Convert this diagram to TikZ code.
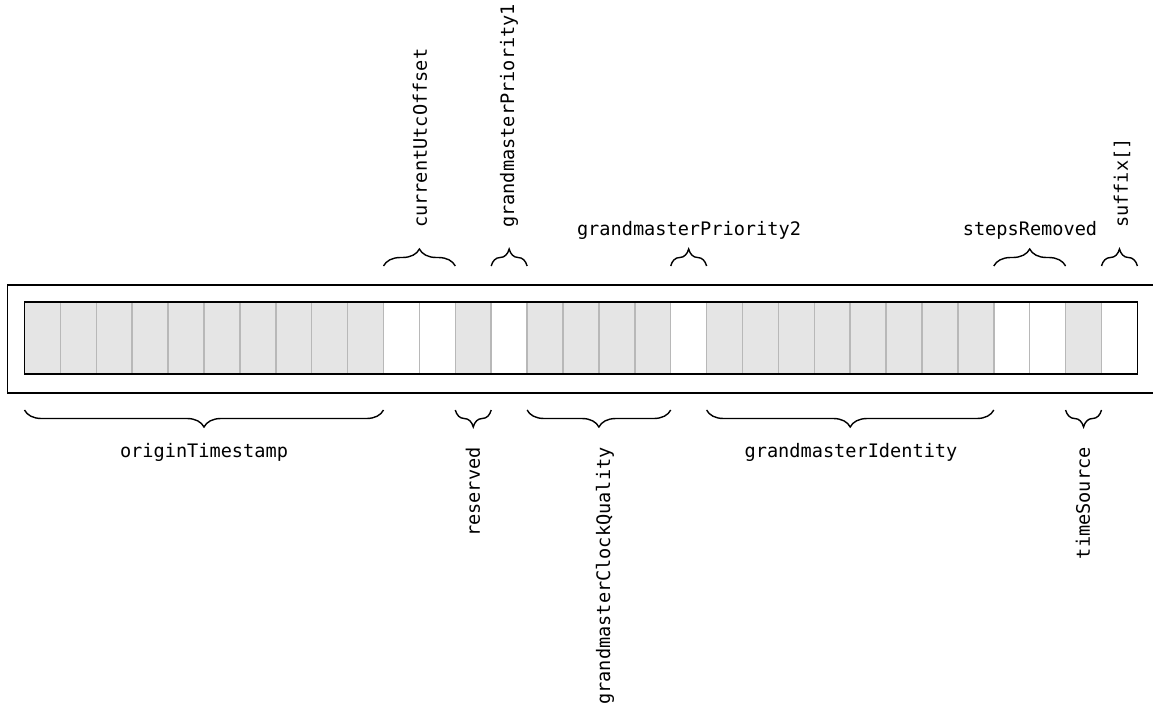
\documentclass[tikz,border=0pt]{standalone}
\usepackage{fontspec}
\newfontfamily\monofont{DejaVu Sans Mono}
\usetikzlibrary{decorations.pathreplacing}
\definecolor{cellfill}{HTML}{E5E5E5}
\definecolor{cellline}{HTML}{B8B8B8}
\begin{document}
\begin{tikzpicture}[x=1pt,y=-1pt,
  cell/.style={draw=cellline, line width=1.5pt, minimum width=35.9pt, minimum height=72pt, inner sep=0pt, outer sep=0pt, anchor=north west},
  gcell/.style={cell, fill=cellfill},
  wcell/.style={cell, fill=white},
  brc/.style={decorate, decoration={brace, amplitude=17pt}, line width=1.4pt},
  mbrc/.style={decorate, decoration={brace, amplitude=17pt, mirror}, line width=1.4pt},
  lbl/.style={font=\monofont\fontsize{18.6}{20}\selectfont, inner sep=0pt, text=black},
  vlbl/.style={lbl, rotate=90}]
\useasboundingbox (0,0) rectangle (1153,704);
\node[draw, line width=1.5pt, minimum width=1160pt, minimum height=108pt, inner sep=0pt, anchor=north west] (frame) at (6.5,284) {};
\foreach \i in {0,...,30} {
  \ifnum\i<10 \def\st{gcell}\else
  \ifnum\i=12 \def\st{gcell}\else
  \ifnum\i>13 \ifnum\i<18 \def\st{gcell}\else
    \ifnum\i>18 \ifnum\i<27 \def\st{gcell}\else
      \ifnum\i=29 \def\st{gcell}\else \def\st{wcell}\fi\fi
    \else \def\st{wcell}\fi\fi
  \else \def\st{wcell}\fi\fi\fi
  \node[\st] (c\i) at (24.5+\i*35.9, 302) {};
}
\draw[line width=1.5pt] (c0.north west) rectangle (c30.south east);
% top braces
\draw[brc] ([yshift=36pt]c10.north west) -- ([yshift=36pt]c11.north east);
\draw[brc] ([yshift=36pt]c13.north west) -- ([yshift=36pt]c13.north east);
\draw[brc] ([yshift=36pt]c18.north west) -- ([yshift=36pt]c18.north east);
\draw[brc] ([yshift=36pt]c27.north west) -- ([yshift=36pt]c28.north east);
\draw[brc] ([yshift=36pt]c30.north west) -- ([yshift=36pt]c30.north east);
% bottom braces
\draw[mbrc] ([yshift=-36pt]c0.south west) -- ([yshift=-36pt]c9.south east);
\draw[mbrc] ([yshift=-36pt]c12.south west) -- ([yshift=-36pt]c12.south east);
\draw[mbrc] ([yshift=-36pt]c14.south west) -- ([yshift=-36pt]c17.south east);
\draw[mbrc] ([yshift=-36pt]c19.south west) -- ([yshift=-36pt]c26.south east);
\draw[mbrc] ([yshift=-36pt]c29.south west) -- ([yshift=-36pt]c29.south east);
% top labels
\node[vlbl, anchor=west] (l1) at (420,228) {currentUtcOffset};
\node[vlbl, anchor=west] (l2) at (509,228) {grandmasterPriority1};
\node[lbl, anchor=base] (l3) at (689,235) {grandmasterPriority2};
\node[lbl, anchor=base] (l4) at (1030,235) {stepsRemoved};
\node[vlbl, anchor=west] (l5) at (1122,228) {suffix[]};
% bottom labels
\node[lbl, anchor=base] (l6) at (204,457) {originTimestamp};
\node[vlbl, anchor=east] (l7) at (473,447) {reserved};
\node[vlbl, anchor=east] (l8) at (605,447) {grandmasterClockQuality};
\node[lbl, anchor=base] (l9) at (851,457) {grandmasterIdentity};
\node[vlbl, anchor=east] (l10) at (1083,447) {timeSource};
\end{tikzpicture}
\end{document}
